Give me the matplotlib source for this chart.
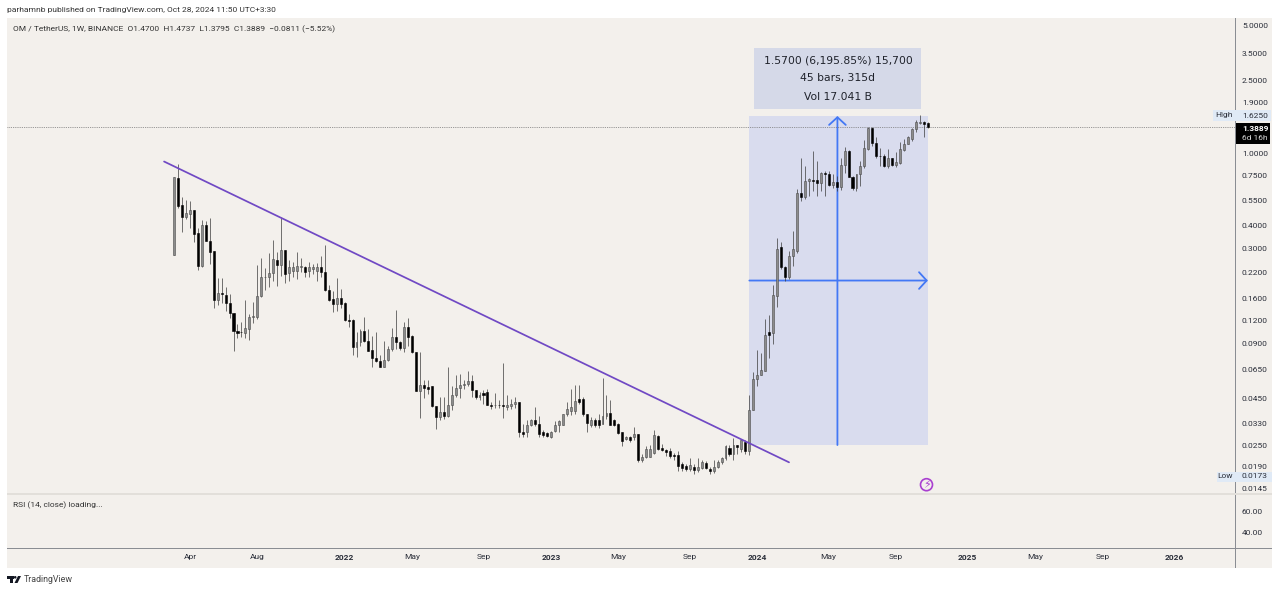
import matplotlib
matplotlib.use('Agg')
import matplotlib.pyplot as plt
from matplotlib.patches import Rectangle, Circle, Polygon
from matplotlib.transforms import Affine2D

# weekly candles, one entry per bar
OPENS = [
    .276, .731, .520, .444, .464, .4876, .363, .2393, .405, .331,
    .2895, .157, .1709, .1673, .1507, .1321, .1062, .1049, .1026, .1085,
    .1256, .1256, .1652, .2084, .2081, .2200, .2593, .2444, .2943, .2189,
    .2246, .2246, .2362, .2383, .2246, .2303, .2246, .2362, .2218, .1782,
    .1585, .1487, .1597, .1499, .1215, .1220, .0860, .0916, .1062, .0936,
    .0835, .0752, .0727, .0674, .0733, .0843, .0984, .0924, .0853, .1117,
    .0997, .0808, .0494, .0535, .0519, .0526, .0407, .0355, .0379, .0360,
    .0412, .0472, .0515, .0535, .0541, .0560, .0498, .0457, .0482, .0488,
    .0417, .0412, .0417, .0417, .0403, .0410, .0421, .0430, .0296, .0296,
    .0324, .0344, .0327, .0294, .0290, .0276, .0297, .0324, .0324, .0368,
    .0382, .0382, .0449, .0449, .0371, .0324, .0341, .0341, .0327, .0363,
    .0374, .0341, .0327, .0294, .0271, .0276, .0278, .0288, .0208, .0214,
    .0216, .0226, .0282, .0240, .0236, .0233, .0221, .0221, .0196, .0193,
    .0184, .0189, .0183, .0186, .0200, .0185, .0181, .0189, .0202, .0211,
    .0240, .0223, .0249, .0238, .0259, .0233, .0390, .0579, .0602, .0641,
    .1036, .1023, .1652, .3040, .2362, .2081, .2739, .2917, .6017, .5772,
    .7064, .7155, .7155, .6888, .7747, .7717, .6716, .6976, .6548, .8646,
    1.032, .7430, .6466, .7717, .8538, 1.0576, 1.3795, 1.1308, .9688, .9688,
    .8464, .9447, .8646, .8790, 1.045, 1.1264, 1.2004, 1.3622, 1.4700, 1.4881,
    1.4700,
]
HIGHS = [
    .743, .872, .572, .5535, .5487, .4876, .3887, .430, .4224, .4388,
    .2917, .2056, .2056, .1834, .1688, .1321, .1156, .119, .1565, .1311,
    .1518, .2435, .2647, .2345, .2833, .3339, .2856, .4442, .2943, .2603,
    .2517, .288, .2647, .2414, .2539, .2465, .2489, .2728, .3134, .1878,
    .176, .2067, .1798, .1518, .1311, .1231, .1049, .1085, .1267, .1085,
    .0997, .1040, .0775, .0936, .0879, .1093, .1384, .0936, .119, .124,
    .1010, .0808, .0808, .0572, .0565, .0526, .0407, .0457, .0457, .0674,
    .0530, .0602, .0614, .0565, .0633, .0609, .0498, .0488, .0504, .0510,
    .0430, .0482, .0439, .0706, .0472, .0449, .0457, .0430, .0327, .0345,
    .0349, .0403, .0363, .0303, .0296, .0297, .0338, .0344, .0371, .0430,
    .0510, .0537, .0535, .0457, .0371, .0355, .0353, .0368, .0582, .0468,
    .0439, .0349, .0330, .0294, .0282, .0282, .0313, .0288, .0224, .0247,
    .0251, .0303, .0284, .0254, .0238, .0240, .0225, .0233, .0202, .0198,
    .0213, .0198, .0213, .0208, .0204, .0190, .0206, .0206, .0215, .0249,
    .0249, .0274, .0249, .0265, .0265, .0468, .0628, .0835, .0797, .1236,
    .1298, .1899, .3438, .324, .2414, .2917, .3756, .6385, .9447, .8538,
    .7337, 1.032, .9095, .7915, .8015, .8015, .7717, .7525, .9365, 1.0746,
    1.045, .7525, .7717, .9095, 1.185, 1.397, 1.395, 1.2198, 1.0710, .9936,
    1.0576, .9447, 1.0103, 1.1454, 1.2004, 1.2467, 1.3795, 1.526, 1.625, 1.507,
    1.4737,
]
LOWS = [
    .276, .498, .368, .4355, .3867, .324, .2286, .2383, .328, .2465,
    .1407, .1469, .1499, .1355, .1240, .0825, .0964, .0975, .0964, .0944,
    .1175, .1231, .1632, .1782, .1851, .1979, .1858, .2127, .1930, .1997,
    .2101, .2041, .2218, .2081, .2101, .2173, .1997, .2081, .1744, .1537,
    .1338, .1367, .1414, .1205, .1107, .0775, .0758, .0879, .0916, .0815,
    .0668, .0718, .0668, .0668, .0721, .0825, .0843, .0835, .0808, .0879,
    .0801, .0494, .0351, .0454, .0478, .0403, .0307, .0344, .0349, .0355,
    .0387, .0457, .0454, .0510, .0530, .0457, .0449, .0441, .0421, .0417,
    .0395, .0398, .0401, .0353, .0387, .0395, .0401, .0276, .0276, .0276,
    .0316, .0316, .0276, .0276, .0276, .0274, .0294, .0294, .0324, .0363,
    .0366, .0371, .0421, .0363, .0294, .0313, .0313, .0311, .0327, .0349,
    .0320, .0316, .0288, .0246, .0265, .0259, .0265, .0203, .0203, .0211,
    .0214, .0222, .0236, .0233, .0219, .0212, .0208, .0181, .0181, .0179,
    .0179, .0174, .0177, .0184, .0184, .0173, .0176, .0187, .0198, .0208,
    .0219, .0208, .0223, .0228, .0223, .0221, .0390, .0530, .0602, .0641,
    .0746, .0901, .1438, .2324, .1997, .2048, .2414, .2845, .5487, .5628,
    .5845, .6226, .5845, .6226, .5845, .6632, .6466, .6226, .6305, .7815,
    .7362, .6305, .6226, .6632, .8325, 1.045, 1.0984, .9447, .8538, .8431,
    .8254, .8538, .8354, .8757, 1.032, 1.1264, 1.17, 1.300, 1.4508, 1.2198,
    1.3795,
]
CLOSES = [
    .743, .515, .444, .467, .4876, .360, .2393, .405, .331, .2856,
    .157, .1709, .1688, .1499, .1321, .1052, .1026, .1040, .1093, .1267,
    .1272, .1652, .2101, .2101, .2200, .2627, .2444, .2943, .2173, .2383,
    .2383, .2393, .2393, .2218, .2383, .2362, .2362, .2218, .1782, .157,
    .1487, .1597, .1487, .1215, .1194, .0860, .0924, .1062, .0928, .0825,
    .0752, .0721, .0674, .0733, .0843, .0984, .0916, .0853, .1117, .0984,
    .0808, .0494, .0535, .0516, .0506, .0407, .0355, .0379, .0363, .0412,
    .0472, .0515, .0535, .0541, .0560, .0498, .0457, .0472, .0468, .0417,
    .0407, .0417, .0412, .0407, .0417, .0421, .0430, .0294, .0288, .0324,
    .0344, .0327, .0288, .0285, .0282, .0294, .0324, .0338, .0371, .0395,
    .0403, .0435, .0430, .0371, .0330, .0341, .0324, .0324, .0363, .0374,
    .0324, .0320, .0290, .0263, .0276, .0268, .0288, .0208, .0216, .0238,
    .0238, .0284, .0238, .0236, .0228, .0219, .0219, .0192, .0187, .0184,
    .0195, .0183, .0189, .0202, .0187, .0179, .0189, .0203, .0212, .0246,
    .0223, .0249, .0245, .0265, .0233, .0390, .0579, .0609, .0649, .1010,
    .1010, .1673, .2992, .2362, .2081, .2739, .2992, .6070, .5719, .7064,
    .7245, .7064, .6888, .7747, .7717, .6716, .6976, .6548, .8646, 1.0227,
    .7362, .6466, .7717, .8538, 1.0710, 1.3795, 1.1308, .9688, .9568, .8464,
    .9447, .8646, .8904, 1.0576, 1.1264, 1.2198, 1.3622, 1.4753, 1.4753, 1.4508,
    1.3889,
]

PRICE_TICKS = [5.0, 3.5, 2.5, 1.9, 1.0, 0.75, 0.55, 0.4, 0.3, 0.22, 0.16, 0.12,
               0.09, 0.065, 0.045, 0.033, 0.025, 0.019, 0.0145]
RSI_TICKS = [60, 40]

# bar index of the first bar of each labelled month
TIME_TICKS = [4, 21, 43, 60, 78, 95, 112, 130, 147, 165, 182, 200, 217, 234, 252]
TIME_LABELS = ['Apr', 'Aug', '2022', 'May', 'Sep', '2023', 'May', 'Sep', '2024',
               'May', 'Sep', '2025', 'May', 'Sep', '2026']

TREND_X = [-2.5, 155.0]
TREND_Y = [0.898, 0.0201]

MEASURE_BARS = [145, 190]
MEASURE_PRICES = [0.025, 1.595]

W, H = 1280, 592
BG = '#f3f0ec'
FONT = 'Roboto'
SIZE = 6.0
TEXT = '#2a2e39'
ARROW = '#4378f5'

plt.rcParams['font.family'] = FONT

fig = plt.figure(figsize=(W / 100, H / 100), dpi=100, facecolor='white')
# chrome is placed in screen pixels, y going down
px = Affine2D().scale(1, -1).translate(0, H)


def pane(left, top, right, bottom):
    return fig.add_axes([left / W, 1 - bottom / H, (right - left) / W, (bottom - top) / H])


fig.add_artist(Rectangle((7, 18), 1265, 550, transform=px, fc=BG, ec='none', zorder=-1))

ax = pane(7, 18, 1235, 494)
ax.patch.set_visible(False)
ax.set_yscale('log')
ax.set_xlim(-42.09, 267.4)
ax.set_ylim(0.01347, 5.503)
for s in ax.spines.values():
    s.set_visible(False)
ax.set_xticks([])
ax.yaxis.tick_right()
ax.set_yticks(PRICE_TICKS)
ax.set_yticklabels(['%.4f' % v for v in PRICE_TICKS], fontsize=SIZE, color=TEXT)
ax.minorticks_off()
ax.tick_params(axis='y', length=0, pad=5)

# measure tool
x0, x1 = MEASURE_BARS
y0, y1 = MEASURE_PRICES
xmid = (x0 + x1) / 2 - 0.3
ymid = (y0 * y1) ** 0.5
ax.add_patch(Rectangle((x0, y0), x1 - x0, y1 - y0, fc='#d9dcee', ec='none', zorder=1))
head = dict(arrowstyle='->,head_length=0.55,head_width=0.6', color=ARROW, lw=1.3,
            mutation_scale=10, shrinkA=0, shrinkB=0)
ax.annotate('', xy=(xmid, y1), xytext=(xmid, y0), arrowprops=head, zorder=2)
ax.annotate('', xy=(x1, ymid), xytext=(x0, ymid), arrowprops=head, zorder=2)

# candles
bars = range(len(OPENS))
ax.vlines(bars, LOWS, HIGHS, color='#3a3a3a', lw=0.5, zorder=3)
for i in bars:
    o, c = OPENS[i], CLOSES[i]
    if c >= o:
        ax.bar(i, c - o, bottom=o, width=0.48, color='#8c8c8c', edgecolor='#4a4a4a', lw=0.4, zorder=4)
    else:
        ax.bar(i, o - c, bottom=c, width=0.52, color='black', edgecolor='black', lw=0.4, zorder=4)

ax.plot(TREND_X, TREND_Y, color='#7049c4', lw=1.25, zorder=5, solid_capstyle='round')
ax.axhline(CLOSES[-1], color='#777777', ls=(0, (1, 1.2)), lw=0.6, zorder=2)

# rsi pane, nothing loaded yet
rsi = pane(7, 494, 1235, 548)
rsi.patch.set_visible(False)
rsi.set_xlim(ax.get_xlim())
rsi.set_ylim(24.8, 76.2)
for s in rsi.spines.values():
    s.set_visible(False)
rsi.yaxis.tick_right()
rsi.set_yticks(RSI_TICKS)
rsi.set_yticklabels(['%.2f' % v for v in RSI_TICKS], fontsize=SIZE, color=TEXT)
rsi.set_xticks(TIME_TICKS)
rsi.set_xticklabels(TIME_LABELS, fontsize=SIZE, color=TEXT)
for lab in rsi.get_xticklabels():
    if lab.get_text().isdigit():
        lab.set_fontweight('bold')
rsi.tick_params(axis='x', length=0, pad=4)
rsi.tick_params(axis='y', length=0, pad=5)

# price axis border, time axis border and pane separator
fig.add_artist(Rectangle((1234.6, 18), 0.9, 550, transform=px, fc='#8a8d93', ec='none', zorder=5))
fig.add_artist(Rectangle((7, 547.6), 1265, 0.9, transform=px, fc='#8a8d93', ec='none', zorder=5))
fig.add_artist(Rectangle((7, 493), 1265, 2, transform=px, fc='#e2dfda', ec='none', zorder=5))

# measure info box
fig.add_artist(Rectangle((754, 48), 167, 61, transform=px, fc='#d5d9e8', ec='none', zorder=6))
for ty, s in [(60.5, '1.5700 (6,195.85%) 15,700'), (78, '45 bars, 315d'), (96.5, 'Vol 17.041 B')]:
    fig.text(838, ty, s, transform=px, ha='center', va='center', fontsize=7.75,
             color='#1f222b', family='DejaVu Sans', zorder=7)

# high / low / last price labels
fig.add_artist(Rectangle((1213, 110), 58, 11, transform=px, fc='#e0eaf6', ec='none', zorder=6))
fig.add_artist(Rectangle((1217, 471.5), 55, 10.5, transform=px, fc='#e0eaf6', ec='none', zorder=6))
fig.text(1233, 115.5, 'High', transform=px, ha='right', va='center', fontsize=SIZE, color=TEXT, zorder=7)
fig.text(1242, 115.5, '1.6250', transform=px, ha='left', va='center', fontsize=SIZE, color=TEXT, zorder=7)
fig.text(1233, 476.5, 'Low', transform=px, ha='right', va='center', fontsize=SIZE, color=TEXT, zorder=7)
fig.text(1242, 476.5, '0.0173', transform=px, ha='left', va='center', fontsize=SIZE, color=TEXT, zorder=7)
fig.add_artist(Rectangle((1236, 123), 34, 21, transform=px, fc='black', ec='none', zorder=6))
fig.text(1242, 128.5, '1.3889', transform=px, ha='left', va='center', fontsize=SIZE,
         color='white', fontweight='bold', zorder=7)
fig.text(1242, 138, '6d 16h', transform=px, ha='left', va='center', fontsize=SIZE, color='#d8d8d8', zorder=7)

# header and footer text
fig.text(7, 10, 'parhamnb published on TradingView.com, Oct 28, 2024 11:50 UTC+3:30',
         transform=px, va='center', fontsize=SIZE, color='#333333')
fig.text(13, 29, 'OM / TetherUS, 1W, BINANCE  O1.4700  H1.4737  L1.3795  C1.3889  \u22120.0811 (\u22125.52%)',
         transform=px, va='center', fontsize=SIZE, color='#333333')
fig.text(13, 505, 'RSI (14, close) loading...', transform=px, va='center', fontsize=SIZE, color='#333333')
fig.text(24, 579.5, 'TradingView', transform=px, va='center', fontsize=6.4, color='#444444')

# tradingview logo
fig.add_artist(Rectangle((7, 576), 6.5, 2.6, transform=px, fc='#131722', ec='none'))
fig.add_artist(Rectangle((9.5, 576), 3.5, 7, transform=px, fc='#131722', ec='none'))
fig.add_artist(Circle((15.2, 577.3), 1.3, transform=px, fc='#131722', ec='none'))
fig.add_artist(Polygon([(14.5, 583), (18, 576), (21, 576), (17.5, 583)], transform=px, fc='#131722', ec='none'))

# lightning badge
fig.add_artist(Circle((926.5, 484.7), 6, transform=px, fc='none', ec='#a93fd0', lw=1.2, zorder=6))
fig.text(926.5, 484.7, '\u26a1', transform=px, ha='center', va='center', fontsize=8,
         color='#a93fd0', family='DejaVu Sans', zorder=7)

fig.savefig('out.png', dpi=100)
